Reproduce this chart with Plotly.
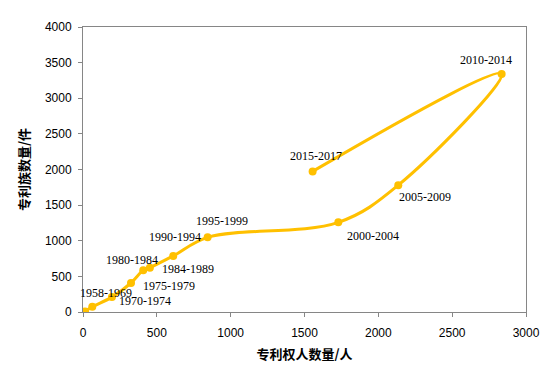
import plotly.graph_objects as go

holders = [14, 63, 196, 325, 408, 453, 611, 844, 1729, 2135, 2835, 1555]
families = [8, 73, 209, 407, 585, 622, 787, 1048, 1258, 1780, 3342, 1973]
periods = ["1958-1969", "", "1970-1974", "1975-1979", "1980-1984", "1984-1989",
           "1990-1994", "1995-1999", "2000-2004", "2005-2009", "2010-2014", "2015-2017"]
# label offsets in pixels (dx right, dy down)
label_dx = [21, 0, 33, 38, -11, 38, 2, 14, 35, 27, -16, 3]
label_dy = [-18, 0, 4, 3, -10, 1, -19, -16, 14, 12, -14, -15]

x_ticks = [0, 500, 1000, 1500, 2000, 2500, 3000]
y_ticks = [0, 500, 1000, 1500, 2000, 2500, 3000, 3500, 4000]

color = "#FFC000"
fig = go.Figure()
fig.add_trace(go.Scatter(
    x=holders, y=families, mode="lines+markers",
    line=dict(color=color, width=3, shape="spline", smoothing=1),
    marker=dict(color=color, size=8),
    showlegend=False, hoverinfo="skip"))

for xv, yv, t, dx, dy in zip(holders, families, periods, label_dx, label_dy):
    if not t:
        continue
    fig.add_annotation(x=xv, y=yv, text=t, showarrow=False,
                       xshift=dx, yshift=-dy,
                       font=dict(family="Liberation Serif", size=12, color="black"))

axis_common = dict(showline=True, linecolor="#868686", linewidth=1, mirror=True,
                   showgrid=False, zeroline=False, ticks="outside", ticklen=4,
                   tickcolor="#868686",
                   tickfont=dict(family="Liberation Sans", size=12, color="black"))

fig.update_xaxes(range=[0, 3000], tickvals=x_ticks, ticklabelstandoff=6,
                 title=dict(text="<b>专利权人数量/人</b>", standoff=10,
                            font=dict(family="Noto Sans CJK SC", size=13, color="black")),
                 **axis_common)
fig.update_yaxes(range=[0, 4000], tickvals=y_ticks, ticklabelstandoff=4,
                 title=dict(text="<b>专利族数量/件</b>", standoff=12,
                            font=dict(family="Noto Sans CJK SC", size=13, color="black")),
                 **axis_common)

fig.update_layout(width=558, height=372,
                  margin=dict(l=75, r=40, t=12, b=68),
                  plot_bgcolor="white", paper_bgcolor="white")

fig.write_html("out.html")
